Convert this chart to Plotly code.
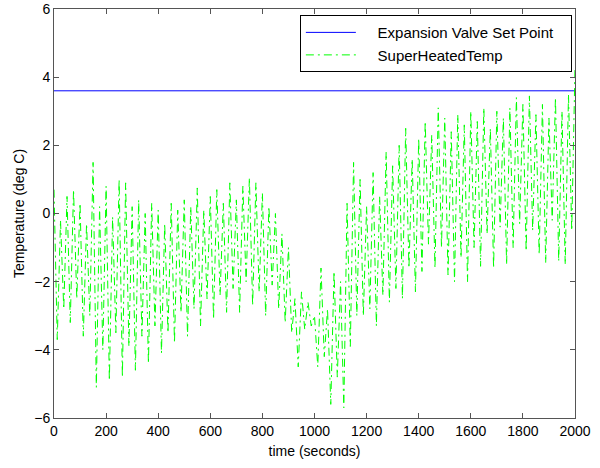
import plotly.graph_objects as go

# Expansion valve set point (deg C)
set_point = 3.6
time_range = [0, 2000]

# Superheated temperature: successive peaks (t = 0, 25, 50, ...) and troughs (t = 12.5, 37.5, ...)
peaks = [0.7, -0.2, 0.5, 0.7, 0.3, -0.3, 1.5, 0.2, 0.8, -0.1,
         1.0, 0.9, 0.2, 0.4, 0.0, 0.3, 0.1, -0.3, 0.3, 0.1,
         0.4, 0.2, 0.75, 0.1, 0.5, 0.7, 0.3, 0.9, 0.4, 0.8,
         1.05, 0.9, 0.6, 0.2, 0.0, -0.6, -1.0, -2.5, -2.3, -2.6,
         -3.0, -1.6, -2.8, -1.7, -2.0, 0.3, 1.5, 1.0, 0.2, 1.2,
         0.5, 1.8, 1.4, 2.0, 2.5, 1.6, 2.2, 2.7, 2.3, 3.1,
         2.8, 2.4, 2.9, 2.6, 3.0, 2.7, 3.1, 2.5, 3.0, 2.8,
         3.1, 3.4, 3.2, 3.45, 2.9, 3.2, 2.8, 3.4, 3.0, 3.5]
troughs = [-3.7, -2.8, -3.2, -2.5, -3.6, -3.0, -5.1, -4.0, -4.9, -3.5,
           -4.8, -3.9, -4.6, -3.6, -4.4, -3.3, -4.1, -3.5, -3.8, -2.9,
           -3.6, -2.8, -3.3, -2.5, -3.1, -2.4, -2.9, -2.2, -2.9, -2.0,
           -2.7, -2.3, -3.0, -2.1, -2.8, -3.2, -3.5, -4.5, -3.4, -3.3,
           -4.5, -4.2, -5.6, -4.8, -5.7, -3.9, -3.0, -3.0, -2.8, -3.3,
           -2.4, -2.6, -2.2, -2.5, -1.6, -2.3, -1.7, -0.9, -1.6, -1.0,
           -1.8, -2.0, -1.3, -2.0, -1.0, -1.55, -0.6, -1.6, -0.4, -1.5,
           -1.0, -0.3, -1.1, -0.5, -1.2, -1.45, -0.2, -1.4, -1.5, -0.5]
final_value = 4.3
half_period = 12.5

t = []
temp = []
for i, (p, q) in enumerate(zip(peaks, troughs)):
    t.append(2 * i * half_period)
    temp.append(p)
    t.append((2 * i + 1) * half_period)
    temp.append(q)
t.append(time_range[1])
temp.append(final_value)

axis_col = "#555555"
tick_font = dict(family="Liberation Sans Narrow, Arial Narrow, sans-serif", size=14, color="black")
title_font = dict(family="Liberation Sans, Arial, sans-serif", size=14, color="black")
sp = "\u00a0"

fig = go.Figure()
fig.add_trace(go.Scatter(
    x=time_range, y=[set_point, set_point], mode="lines",
    name=sp * 4 + "Expansion Valve Set Point" + sp * 3,
    line=dict(color="#0000ff", width=1),
))
fig.add_trace(go.Scatter(
    x=t, y=temp, mode="lines",
    name=sp * 4 + "SuperHeatedTemp",
    line=dict(color="#00ff00", width=1, dash="8px,4px,2px,4px"),
))

fig.update_layout(
    width=600, height=468,
    margin=dict(l=54, r=25, t=9, b=50, autoexpand=False),
    paper_bgcolor="white", plot_bgcolor="white",
    showlegend=True,
    legend=dict(
        x=0.994, y=0.985, xanchor="right", yanchor="top",
        bordercolor="black", borderwidth=1, bgcolor="white",
        font=dict(family="Liberation Sans, Arial, sans-serif", size=15, color="black"),
        tracegroupgap=0, itemwidth=50,
    ),
    xaxis=dict(
        range=time_range, tickmode="array", automargin=False,
        tickvals=[0, 200, 400, 600, 800, 1000, 1200, 1400, 1600, 1800, 2000],
        ticks="inside", ticklen=5, tickcolor=axis_col,
        showline=True, linecolor=axis_col, linewidth=1, mirror="ticks",
        showgrid=False, zeroline=False,
        tickfont=tick_font,
        title=dict(text="time (seconds)", font=title_font, standoff=8),
    ),
    yaxis=dict(
        range=[-6, 6], tickmode="array", automargin=False,
        tickvals=[-6, -4, -2, 0, 2, 4, 6],
        ticks="inside", ticklen=5, tickcolor=axis_col,
        showline=True, linecolor=axis_col, linewidth=1, mirror="ticks",
        showgrid=False, zeroline=False,
        tickfont=tick_font,
        title=dict(text="Temperature (deg C)", font=title_font, standoff=6),
    ),
)

fig.write_html("out.html")
